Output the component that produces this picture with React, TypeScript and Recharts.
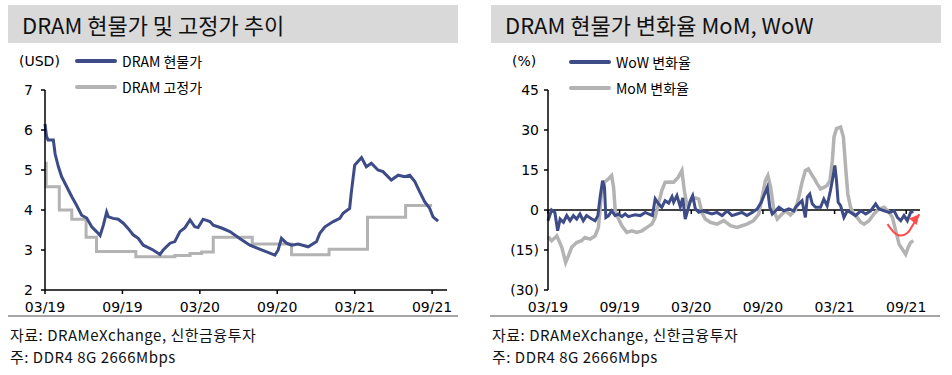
import React from 'react';
import { LineChart, Line, XAxis, YAxis, ReferenceLine } from 'recharts';

const NAVY = '#3d4b87';
const GRAY = '#b3b3b3';
const KR = '"Noto Sans CJK KR", "Noto Sans", sans-serif';
const NUM = '"DejaVu Sans", Arial, sans-serif';

// x axis in weeks since the start of March 2019
const xTicks = [0, 26, 52, 78, 104, 130];
const xTickLabels = ['03/19', '09/19', '03/20', '09/20', '03/21', '09/21'];

// DRAM spot price (USD)
const spotWeeks = [0, 0.5, 1, 2.8, 3.4, 4.5, 5.6, 7.3, 9, 10.6, 12.3, 14, 15.7, 17.3, 18.5, 19.6, 20.7, 21.3, 22.9, 24.6,
  26.3, 27.9, 29.6, 31.3, 33, 34.7, 36.3, 38.6, 39.7, 42, 43.6, 45.3, 47, 48.7, 50.3, 51.4, 53.1, 55.4, 56.5, 59.3,
  62.1, 65.4, 68.8, 72.1, 75.5, 77.2, 78.3, 79.4, 81.1, 82.8, 85, 88.4, 91.2, 92.3, 94, 96.8, 99, 100.1, 102.3, 102.9,
  104, 105.1, 106.3, 107.9, 109.6, 111.8, 113.5, 116.3, 118.6, 120.8, 122.5, 124.2, 125.8, 127.5, 129.2, 130.3, 132];
const spotPrice = [6.15, 5.85, 5.75, 5.75, 5.4, 5.08, 4.83, 4.58, 4.33, 4.12, 3.87, 3.8, 3.58, 3.46, 3.36, 3.62, 3.95, 3.83, 3.79, 3.77,
  3.67, 3.54, 3.38, 3.29, 3.12, 3.06, 3.0, 2.89, 3.0, 3.17, 3.21, 3.46, 3.56, 3.75, 3.58, 3.56, 3.77, 3.71, 3.62, 3.55,
  3.46, 3.29, 3.12, 3.02, 2.92, 2.87, 3.0, 3.29, 3.17, 3.12, 3.15, 3.08, 3.21, 3.42, 3.58, 3.71, 3.79, 3.92, 4.04, 4.46,
  5.12, 5.21, 5.31, 5.08, 5.17, 5.0, 4.96, 4.75, 4.87, 4.83, 4.87, 4.71, 4.46, 4.21, 4.04, 3.83, 3.72];

// DRAM fixed (contract) price (USD)
const fixedWeeks = [0, 0.4, 4.8, 9, 13.8, 17.3, 30.5, 43.6, 48.7, 52.6, 56.5, 69.6, 82.8, 95.4, 108.3, 121.1, 130];
const fixedPrice = [5.17, 4.58, 4.0, 3.77, 3.32, 2.96, 2.83, 2.86, 2.91, 2.95, 3.32, 3.15, 2.88, 3.02, 3.82, 4.11, 4.11];

// WoW change (%)
const wowWeeks = [0, 1.3, 2.5, 3.5, 4.4, 5.6, 6.8, 8, 9.2, 10.4, 11.6, 12.8, 14, 15.9, 17.1, 18.1, 18.9, 19.8, 20.5, 21,
  22, 23.1, 24.4, 25.6, 26.8, 28, 29.2, 30.4, 31.6, 33.5, 35.3, 36.5, 37.9, 38.9, 40.1, 41.3, 42.5, 43.8, 45, 45.6,
  46.8, 48, 48.9, 49.8, 51, 51.9, 52.5, 53.5, 54.7, 55.9, 57.7, 59.5, 61.3, 63.2, 65, 66.8, 68.6, 70.4, 72.2, 74.1,
  75.9, 77.4, 78.6, 79.6, 80.5, 81.4, 82.6, 83.8, 85.6, 87.4, 89.2, 89.8, 91, 92.2, 93.4, 94.1, 95, 95.9, 97.1, 98.9,
  100.1, 101.3, 102.5, 103.4, 104.1, 104.7, 105.3, 106.2, 107.4, 108.6, 109.8, 111.6, 113.5, 115.3, 117.1, 118.9, 120.1, 122, 123.8, 125.6,
  126.8, 128, 129.2, 130.4, 131.6, 132.6];
const wowChange = [-4, 0, -1, -7.8, -3.4, -4.6, -2.1, -4, -2.1, -3.4, -1.5, -4, -2.1, -3.4, -4, -2.1, 4.8, 11, 8.5, -2.8,
  -2.1, -0.3, -2.1, -1.5, -2.5, -1.5, -2.5, -2.1, -1.8, -2.1, -0.9, -1.5, -2.1, 4.2, 2.3, 1, 3.5, 2.6, 5, 2.9,
  5.4, 1.2, 4.5, -3.4, 1, 4.1, 5.4, 0.4, -0.8, -0.3, -0.9, -1.5, -0.9, -2.1, -0.3, -2.1, -1.5, -0.9, -2.1, -0.9,
  0.4, 2.9, 6, 8.5, 1, -1.5, -0.3, 1, -0.3, 0.4, -0.3, 1, 2.3, 3.5, -2.8, 4.8, 6, 2.3, 1, 1,
  4.1, 1.6, 7.3, 12.3, 16.7, 11, 2.9, 1.6, -2.8, -0.3, -0.9, -2.1, -0.3, -1.5, -0.3, 2.3, 0.4, -0.3, -0.9, -0.3,
  -2.8, -4, -2.1, -4, -0.9, -0.6];

// MoM change (%)
const momWeeks = [0, 1.3, 3.2, 5, 6.4, 7.4, 8.6, 10.4, 12.2, 13.4, 15.3, 17.1, 18.3, 19.3, 20.5, 22, 23.1, 23.8, 24.4, 25.6,
  26.8, 28.6, 30.4, 32.2, 34.1, 35.9, 37.7, 38.9, 40.1, 41.3, 42.5, 44.4, 45.6, 47.3, 48.6, 49.5, 50.4, 51.6, 53.5, 54.7,
  55.9, 57.1, 58.9, 61.3, 63.8, 66.2, 68.6, 70.4, 72.2, 74.6, 76.5, 77.7, 78.9, 79.8, 80.8, 82, 83.2, 84.4, 86.2, 88,
  89.8, 91, 92.2, 93.4, 94.5, 95.9, 96.7, 97.7, 98.9, 100.1, 101.3, 102.3, 103.2, 103.8, 104.7, 106.2, 107.2, 108, 108.8, 109.8,
  111, 112.2, 113.5, 114.7, 116.5, 118.3, 120.1, 122, 123.8, 125, 126.2, 127.4, 128.6, 129.8, 130.7, 131.6, 132.6];
const momChange = [-10, -11.5, -9.7, -14, -19.7, -17.2, -14, -12.2, -11.5, -10.3, -10.9, -9.7, -6.5, 4.8, 10.4, 11.7, 12.9, 8.5, -0.3, -3.4,
  -5.9, -8.4, -7.8, -8.4, -7.8, -6.5, -5.3, -2.8, 2.3, 7.3, 10.4, 10.5, 10.4, 12.3, 14.8, 7, 2, 3.2, 4.5, 4.1,
  -1.2, -3.4, -4.6, -5.3, -4, -5.9, -6.5, -5.9, -5.3, -4, -1.5, 4.8, 11, 12.9, 8.5, -0.3, -3.4, -2.1, -0.3, -1.8,
  0, 4.8, 10.4, 14.8, 15.4, 12.9, 11.7, 9.8, 7.9, 8.5, 9.2, 11, 18.6, 27.4, 30.5, 31.1, 27.4, 16.1, 6, 1,
  -1.5, -2.8, -4.6, -5.3, -4, -1.5, 0.4, 1, -0.9, -2.8, -7.8, -12.8, -14.7, -16.6, -14, -12.2, -11.5];

// red rebound arrow annotation
const arrowWeeks = [123.2, 125.5, 128, 130.5, 132.5, 134.8];
const arrowValues = [-5.3, -8.3, -9.6, -8.5, -5.5, -1.6];

const zip = (ws: number[], vs: number[]) => ws.map((w, i) => ({ w, v: vs[i] }));

const spotData = zip(spotWeeks, spotPrice);
const fixedData = zip(fixedWeeks, fixedPrice);
const wowData = zip(wowWeeks, wowChange);
const momData = zip(momWeeks, momChange);
const arrowData = zip(arrowWeeks, arrowValues);

const tickText = { fill: '#000', fontSize: 14, fontFamily: NUM };
const fmtX = (v: number) => xTickLabels[xTicks.indexOf(v)];
const fmtPct = (v: number) => (v < 0 ? `(${-v})` : `${v}`);

const ArrowHead = (props: any) => {
  const { cx, cy, index } = props;
  if (index !== arrowData.length - 1) return <g key={`a${index}`} />;
  return (
    <polygon
      key={`a${index}`}
      points="0,0 -10,-5 -10,5"
      fill="#ff4d4d"
      transform={`translate(${cx},${cy}) rotate(-49)`}
    />
  );
};

const Title = ({ left, text }: { left: number; text: string }) => (
  <div style={{
    position: 'absolute', left, top: 5, width: 450, height: 38, background: '#d9d9d9',
    fontFamily: KR, fontSize: 22, lineHeight: '38px', color: '#111', paddingLeft: 14, boxSizing: 'border-box',
  }}>{text}</div>
);

const LegendItem = ({ left, top, color, text }: { left: number; top: number; color: string; text: string }) => (
  <>
    <div style={{ position: 'absolute', left, top: top - 2, width: 42, height: 4, background: color, borderRadius: 2 }} />
    <div style={{ position: 'absolute', left: left + 47, top: top - 10, height: 20, lineHeight: '20px', fontFamily: KR, fontSize: 14, color: '#000', whiteSpace: 'nowrap' }}>{text}</div>
  </>
);

const footNote = { position: 'absolute' as const, lineHeight: '22px', fontFamily: KR, fontSize: 15, letterSpacing: 0.5, color: '#111', whiteSpace: 'nowrap' as const };

const Footer = ({ left }: { left: number }) => (
  <>
    <div style={{ position: 'absolute', left: left - 2, top: 315, width: 450, height: 2, background: '#a6a6a6' }} />
    <div style={{ ...footNote, left, top: 324 }}>자료: DRAMeXchange, 신한금융투자</div>
    <div style={{ ...footNote, left, top: 346 }}>주: DDR4 8G 2666Mbps</div>
  </>
);

const Small = ({ left, top, text }: { left: number; top: number; text: string }) => (
  <div style={{ position: 'absolute', left, top: top - 10, height: 20, lineHeight: '20px', fontFamily: NUM, fontSize: 14, color: '#000' }}>{text}</div>
);

export default function App() {
  return (
    <div style={{ position: 'absolute', left: 0, top: 0, width: 952, height: 375, background: '#fff', overflow: 'hidden' }}>
      <Title left={8} text="DRAM 현물가 및 고정가 추이" />
      <Title left={491} text="DRAM 현물가 변화율 MoM, WoW" />

      <LineChart width={470} height={330} margin={{ top: 90, right: 23, bottom: 10, left: 15 }}
        style={{ position: 'absolute', left: 0, top: 0 }}>
        <XAxis type="number" dataKey="w" domain={[0, 135]} ticks={xTicks} tickFormatter={fmtX} height={30}
          tickSize={4} tickMargin={8} tick={tickText} axisLine={{ stroke: '#000', strokeWidth: 1.5 }} tickLine={{ stroke: '#000', strokeWidth: 1.5 }} />
        <YAxis type="number" domain={[2, 7]} ticks={[2, 3, 4, 5, 6, 7]} width={30} tickSize={4} tickMargin={8}
          tick={tickText} axisLine={{ stroke: '#000', strokeWidth: 1.5 }} tickLine={{ stroke: '#000', strokeWidth: 1.5 }} />
        <Line data={fixedData} dataKey="v" type="stepAfter" stroke={GRAY} strokeWidth={3} dot={false} isAnimationActive={false} />
        <Line data={spotData} dataKey="v" type="linear" stroke={NAVY} strokeWidth={3} dot={false} isAnimationActive={false} />
      </LineChart>

      <LineChart width={460} height={330} margin={{ top: 90, right: 30, bottom: 10, left: 18 }}
        style={{ position: 'absolute', left: 490, top: 0 }}>
        <XAxis type="number" dataKey="w" domain={[0, 135]} ticks={xTicks} tickFormatter={fmtX} height={30}
          tickSize={4} tickMargin={8} tick={tickText} axisLine={false} tickLine={false} />
        <YAxis type="number" domain={[-30, 45]} ticks={[-30, -15, 0, 15, 30, 45]} tickFormatter={fmtPct} width={40}
          tickSize={4} tickMargin={5} tick={tickText} axisLine={{ stroke: '#000', strokeWidth: 1.5 }} tickLine={{ stroke: '#000', strokeWidth: 1.5 }} />
        <ReferenceLine y={0} stroke="#000" strokeWidth={1.5} />
        {xTicks.map((t) => (
          <ReferenceLine key={t} segment={[{ x: t, y: 0 }, { x: t, y: -1.5 }]} stroke="#000" strokeWidth={1.5} />
        ))}
        <Line data={momData} dataKey="v" type="linear" stroke={GRAY} strokeWidth={3.5} dot={false} isAnimationActive={false} />
        <Line data={wowData} dataKey="v" type="linear" stroke={NAVY} strokeWidth={3} dot={false} isAnimationActive={false} />
        <Line data={arrowData} dataKey="v" type="monotone" stroke="#ff4d4d" strokeWidth={2} dot={ArrowHead} isAnimationActive={false} />
      </LineChart>

      <Small left={19} top={61} text="(USD)" />
      <LegendItem left={75} top={61} color={NAVY} text="DRAM 현물가" />
      <LegendItem left={75} top={87} color={GRAY} text="DRAM 고정가" />

      <Small left={512} top={61} text="(%)" />
      <LegendItem left={569} top={62} color={NAVY} text="WoW 변화율" />
      <LegendItem left={569} top={88} color={GRAY} text="MoM 변화율" />

      <Footer left={10} />
      <Footer left={492} />
    </div>
  );
}
